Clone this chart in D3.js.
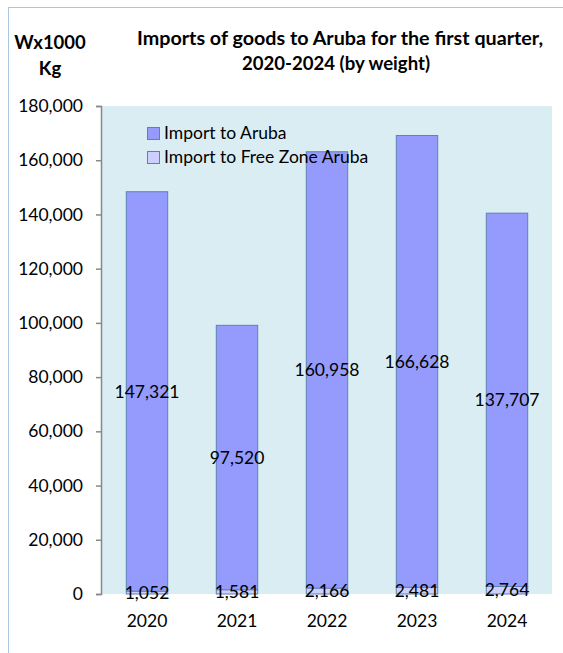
<!DOCTYPE html>
<html><head><meta charset="utf-8">
<script src="https://cdn.jsdelivr.net/npm/d3@7"></script>
<style>body{margin:0;background:#fff}svg{display:block}text{font-family:Lato,"Open Sans",sans-serif;fill:#000}</style>
</head><body>
<script>
const years = ["2020","2021","2022","2023","2024"];
const importAruba = [147321, 97520, 160958, 166628, 137707];
const importFreeZone = [1052, 1581, 2166, 2481, 2764];
const yTicks = [0,20000,40000,60000,80000,100000,120000,140000,160000,180000];
const seriesNames = ["Import to Aruba","Import to Free Zone Aruba"];
const titleLines = ["Imports of goods to Aruba for the first quarter,","2020-2024 (by weight)"];
const unitLines = ["Wx1000","Kg"];

const W=563,H=653;
const svg=d3.select("body").append("svg").attr("width",W).attr("height",H);
// outer chart border
svg.append("rect").attr("x",8.5).attr("y",7.5).attr("width",W+10).attr("height",H+10)
  .attr("fill","none").attr("stroke","#a9c6e3").attr("stroke-width",1);

const x=d3.scaleBand().domain(years).range([102,552]).paddingInner(0.54).paddingOuter(0.27);
const y=d3.scaleLinear().domain([0,180000]).range([594,106]);

svg.append("rect").attr("x",102).attr("y",106).attr("width",450).attr("height",488).attr("fill","#daedf3");

const fmt=d3.format(",");
const fz="#cdd0ff", main="#959bfd", stroke="#5b82b3";
// free zone (bottom)
svg.append("g").selectAll("rect").data(years).join("rect")
  .attr("x",d=>x(d)).attr("width",x.bandwidth())
  .attr("y",(d,i)=>y(importFreeZone[i])).attr("height",(d,i)=>y(0)-y(importFreeZone[i]))
  .attr("fill",fz).attr("stroke",stroke).attr("stroke-width",1);
// import to aruba (top)
svg.append("g").selectAll("rect").data(years).join("rect")
  .attr("x",d=>x(d)).attr("width",x.bandwidth())
  .attr("y",(d,i)=>y(importFreeZone[i]+importAruba[i]))
  .attr("height",(d,i)=>y(importFreeZone[i])-y(importFreeZone[i]+importAruba[i]))
  .attr("fill",main).attr("stroke",stroke).attr("stroke-width",1);

// axis
const ax=svg.append("g").attr("transform","translate(101,0)")
  .call(d3.axisLeft(y).tickValues(yTicks).tickSize(5).tickFormat(fmt));
ax.select(".domain").attr("stroke","#888").attr("stroke-width",1.5);
ax.selectAll(".tick line").attr("stroke","#888").attr("stroke-width",1.5);
ax.selectAll(".tick text").attr("x",-18).attr("font-size",17.5).attr("font-family","Lato").attr("fill","#000");

// x labels
svg.append("g").selectAll("text").data(years).join("text")
  .attr("x",d=>x(d)+x.bandwidth()/2).attr("y",627).attr("text-anchor","middle")
  .attr("font-size",17.5).text(d=>d);

// data labels
svg.append("g").selectAll("text").data(years).join("text")
  .attr("x",d=>x(d)+x.bandwidth()/2)
  .attr("y",(d,i)=>(y(importFreeZone[i])+y(importFreeZone[i]+importAruba[i]))/2)
  .attr("dy","0.35em").attr("text-anchor","middle").attr("font-size",17.5)
  .text((d,i)=>fmt(importAruba[i]));
svg.append("g").selectAll("text").data(years).join("text")
  .attr("x",d=>x(d)+x.bandwidth()/2)
  .attr("y",(d,i)=>(y(0)+y(importFreeZone[i]))/2)
  .attr("dy","0.35em").attr("text-anchor","middle").attr("font-size",17.5)
  .text((d,i)=>fmt(importFreeZone[i]));

// legend
const lg=svg.append("g");
[main,fz].forEach((c,i)=>{
  lg.append("rect").attr("x",147.5).attr("y",127.5+i*24).attr("width",12).attr("height",12)
    .attr("fill",c).attr("stroke",stroke).attr("stroke-width",1);
  lg.append("text").attr("x",164).attr("y",139+i*24).attr("font-size",17.5).text(seriesNames[i]);
});

// title
const titleW=[406,188];
svg.append("g").selectAll("text").data(titleLines).join("text")
  .attr("x",(d,i)=>i?336:340).attr("y",(d,i)=>45+i*25).attr("text-anchor","middle")
  .attr("font-size",19).attr("font-weight","bold")
  .attr("textLength",(d,i)=>titleW[i]).attr("lengthAdjust","spacingAndGlyphs").text(d=>d);
svg.append("g").selectAll("text").data(unitLines).join("text")
  .attr("x",50).attr("y",(d,i)=>49+i*26).attr("text-anchor","middle")
  .attr("font-size",18.5).attr("font-weight","bold").text(d=>d);
</script>
</body></html>
